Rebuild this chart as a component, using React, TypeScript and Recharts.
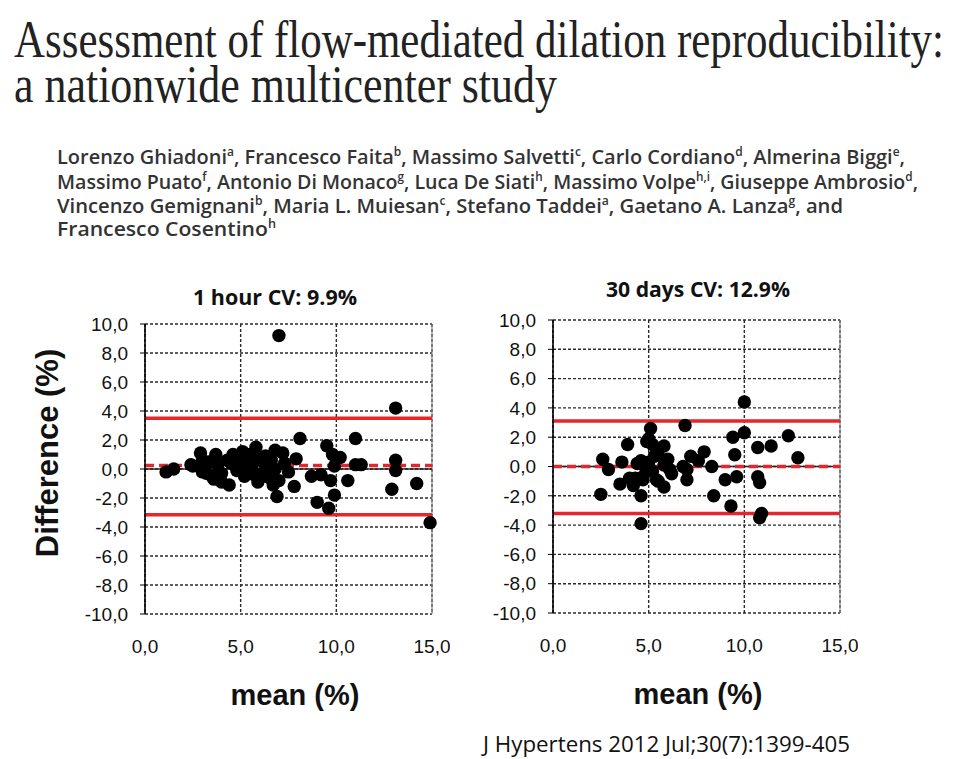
import React from "react";
import { ScatterChart, Scatter, XAxis, YAxis, CartesianGrid, ReferenceLine } from "recharts";

// axis ticks
const xTicks = [0, 5, 10, 15];
const yTicks = [-10, -8, -6, -4, -2, 0, 2, 4, 6, 8, 10];

// 1 hour: [mean %, difference %]
const hourPoints = [
  [1.1, -0.2], [1.5, 0.0], [2.4, 0.3], [2.5, 0.2], [2.9, 1.1], [3.0, 0.6], [3.0, -0.2], [3.2, -0.3],
  [3.4, 0.5], [3.5, -0.5], [3.6, -0.7], [3.7, 1.0], [3.8, 0.3], [4.0, -0.3], [4.0, -0.9], [4.3, 0.6],
  [4.4, -1.1], [4.5, 0.4], [4.6, 1.0], [4.8, -0.1], [5.0, 0.5], [5.1, 1.2], [5.2, -0.5], [5.3, 0.2],
  [5.4, 0.7], [5.5, 1.0], [5.6, 0.3], [5.7, -0.4], [5.8, 1.5], [5.9, -0.9], [6.0, 0.8], [6.0, -0.6],
  [6.1, -0.3], [6.2, 0.5], [6.3, 0.9], [6.4, 0.1], [6.5, -0.6], [6.6, 0.6], [6.8, 1.3], [6.8, 0.0],
  [6.7, -1.1], [6.9, -1.9], [7.0, -0.8], [7.0, 9.2], [7.2, 1.1], [7.3, 0.4], [7.5, -0.2], [7.8, -1.2],
  [7.9, 0.7], [8.1, 2.1], [8.7, -0.5], [9.2, -0.4], [9.0, -2.3], [9.5, 1.6], [9.6, -2.7], [9.7, -0.8],
  [9.8, 1.0], [9.9, 0.2], [9.9, -1.8], [10.2, 0.8], [10.6, -0.8], [11.0, 2.1], [11.0, 0.3], [11.3, 0.3],
  [12.9, -1.4], [13.1, 4.2], [13.1, 0.6], [13.1, -0.1], [14.2, -1.0], [14.9, -3.7],
];
const hourLimits = [3.5, 0.25, -3.15]; // upper, mean, lower

// 30 days
const dayPoints = [
  [2.5, -1.9], [2.6, 0.5], [2.9, -0.2], [3.5, -1.2], [3.6, 0.3], [3.9, 1.5], [4.0, -0.8], [4.2, -1.3],
  [4.3, -0.8], [4.4, 0.2], [4.6, -2.0], [4.6, -3.9], [4.6, 0.4], [4.7, -0.7], [4.7, -0.9], [4.8, 0.0],
  [4.9, 1.7], [5.0, 1.9], [5.0, 0.3], [5.1, 2.6], [5.2, 1.5], [5.2, -0.3], [5.3, 0.7], [5.4, -0.9],
  [5.5, 0.8], [5.5, -1.0], [5.8, 1.4], [5.8, 0.1], [5.8, -1.4], [6.0, 0.5], [6.1, -0.2], [6.2, -0.5],
  [6.8, 0.0], [6.9, 2.8], [7.0, -0.2], [7.0, -0.9], [7.2, 0.7], [7.6, 0.4], [7.9, 1.0], [8.3, 0.0],
  [8.4, -2.0], [9.0, -0.9], [9.3, -2.7], [9.4, 2.0], [9.5, 0.8], [9.6, -0.7], [10.0, 4.4], [10.0, 2.3],
  [10.7, 1.3], [10.7, -0.7], [10.8, -1.1], [10.8, -3.5], [10.9, -3.2], [11.4, 1.4], [12.3, 2.1], [12.8, 0.6],
];
const dayLimits = [3.1, 0.0, -3.2];

const RED = "#e5262c";
const fmt = (v: number) => v.toFixed(1).replace(".", ",");
const tickFont = { fontSize: 19, fill: "#111", fontFamily: "Liberation Sans, Arial, sans-serif" };

function Dot(p: any) {
  return <circle cx={p.cx} cy={p.cy} r={6.7} fill="#000" />;
}

function Panel({ left, top, height, points, limits }: any) {
  const data = points.map(([x, y]: number[]) => ({ x, y }));
  const [upper, mean, lower] = limits;
  return (
    <div style={{ position: "absolute", left, top }}>
      <ScatterChart width={385} height={height} margin={{ top: 14, right: 18, left: 0, bottom: 0 }}>
        <CartesianGrid stroke="#2a2a2a" strokeDasharray="3 2" strokeWidth={1.4} />
        <XAxis
          type="number"
          dataKey="x"
          domain={[0, 15]}
          ticks={xTicks}
          tickFormatter={fmt}
          axisLine={false}
          tickLine={false}
          tickSize={6}
          tickMargin={20}
          height={56}
          tick={tickFont}
        />
        <YAxis
          type="number"
          dataKey="y"
          domain={[-10, 10]}
          ticks={yTicks}
          tickFormatter={fmt}
          width={80}
          axisLine={{ stroke: "#000", strokeWidth: 1.6 }}
          tickLine={{ stroke: "#000" }}
          tickSize={5}
          tickMargin={12}
          tick={tickFont}
        />
        <ReferenceLine x={15} stroke="#888" strokeWidth={1.2} />
        <ReferenceLine y={0} stroke="#222" strokeWidth={1.6} />
        <Scatter data={data} shape={Dot} isAnimationActive={false} />
        <ReferenceLine y={upper} stroke={RED} strokeWidth={3.5} />
        <ReferenceLine y={lower} stroke={RED} strokeWidth={3.5} />
        <ReferenceLine y={mean} stroke={RED} strokeWidth={3.5} strokeDasharray="9 5" />
      </ScatterChart>
    </div>
  );
}

const authorFont = { fontFamily: "Open Sans, sans-serif", fontWeight: 600, fontSize: 20, fill: "#333" };

function Sup({ t }: { t: string }) {
  return (
    <tspan dy={-8} fontSize={12}>
      {t}
    </tspan>
  );
}

export default function App() {
  return (
    <div style={{ position: "absolute", left: 0, top: 0, width: 960, height: 759, background: "#fff", overflow: "hidden" }}>
      <Panel left={65} top={310} height={360} points={hourPoints} limits={hourLimits} />
      <Panel left={473} top={306} height={363} points={dayPoints} limits={dayLimits} />
      <svg width={960} height={759} style={{ position: "absolute", left: 0, top: 0, pointerEvents: "none" }}>
        <g fontFamily="Liberation Serif, serif" fontSize={52} fill="#222">
          <text x={14} y={57} textLength={930} lengthAdjust="spacingAndGlyphs">
            Assessment of flow-mediated dilation reproducibility:
          </text>
          <text x={14} y={102} textLength={543} lengthAdjust="spacingAndGlyphs">
            a nationwide multicenter study
          </text>
        </g>
        <g {...authorFont}>
          <text x={57} y={164} textLength={848} lengthAdjust="spacingAndGlyphs">
            Lorenzo Ghiadoni<Sup t="a" />
            <tspan dy={8}>, Francesco Faita</tspan>
            <Sup t="b" />
            <tspan dy={8}>, Massimo Salvetti</tspan>
            <Sup t="c" />
            <tspan dy={8}>, Carlo Cordiano</tspan>
            <Sup t="d" />
            <tspan dy={8}>, Almerina Biggi</tspan>
            <Sup t="e" />
            <tspan dy={8}>,</tspan>
          </text>
          <text x={57} y={189} textLength={861} lengthAdjust="spacingAndGlyphs">
            Massimo Puato<Sup t="f" />
            <tspan dy={8}>, Antonio Di Monaco</tspan>
            <Sup t="g" />
            <tspan dy={8}>, Luca De Siati</tspan>
            <Sup t="h" />
            <tspan dy={8}>, Massimo Volpe</tspan>
            <Sup t="h,i" />
            <tspan dy={8}>, Giuseppe Ambrosio</tspan>
            <Sup t="d" />
            <tspan dy={8}>,</tspan>
          </text>
          <text x={57} y={213} textLength={786} lengthAdjust="spacingAndGlyphs">
            Vincenzo Gemignani<Sup t="b" />
            <tspan dy={8}>, Maria L. Muiesan</tspan>
            <Sup t="c" />
            <tspan dy={8}>, Stefano Taddei</tspan>
            <Sup t="a" />
            <tspan dy={8}>, Gaetano A. Lanza</tspan>
            <Sup t="g" />
            <tspan dy={8}>, and</tspan>
          </text>
          <text x={57} y={236} textLength={219} lengthAdjust="spacingAndGlyphs">
            Francesco Cosentino<Sup t="h" />
          </text>
        </g>
        <g fontFamily="Open Sans, sans-serif" fontWeight={700} fontSize={22} fill="#111">
          <text x={193} y={305} textLength={164} lengthAdjust="spacingAndGlyphs">
            1 hour CV: 9.9%
          </text>
          <text x={606} y={297} textLength={184} lengthAdjust="spacingAndGlyphs">
            30 days CV: 12.9%
          </text>
        </g>
        <g fontFamily="Liberation Sans, Arial, sans-serif" fontWeight={700} fill="#111">
          <text transform="translate(58,453) rotate(-90)" textAnchor="middle" fontSize={31}>
            Difference (%)
          </text>
          <text x={295} y={705} textAnchor="middle" fontSize={29}>
            mean (%)
          </text>
          <text x={698} y={704} textAnchor="middle" fontSize={29}>
            mean (%)
          </text>
        </g>
        <text x={483} y={752} textLength={367} lengthAdjust="spacingAndGlyphs" fontFamily="Open Sans, sans-serif" fontSize={21} fill="#111">
          J Hypertens 2012 Jul;30(7):1399-405
        </text>
      </svg>
    </div>
  );
}
